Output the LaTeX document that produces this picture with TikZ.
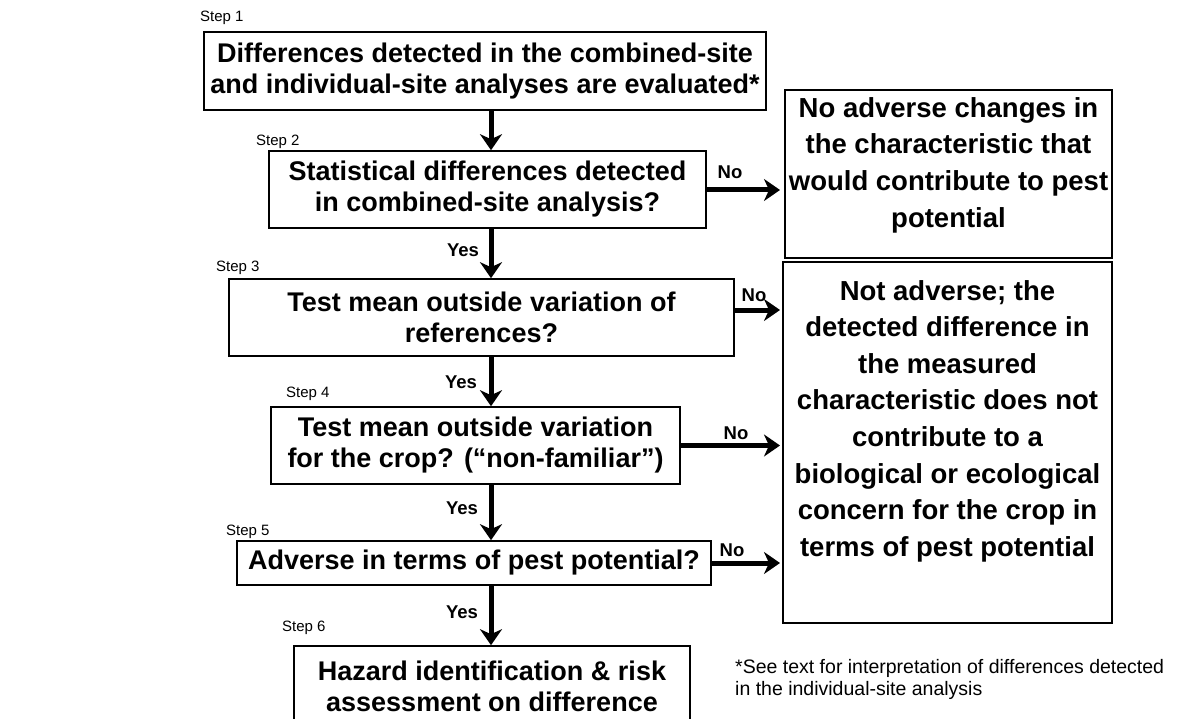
\documentclass[tikz,border=0pt]{standalone}
\usepackage{fontspec}
\setmainfont{Liberation Sans}
\usetikzlibrary{arrows.meta,calc}
\begin{document}
\begin{tikzpicture}[x=1pt,y=-1pt,
  box/.style={draw, line width=1.6pt, align=center, inner sep=0pt,
    font=\bfseries\fontsize{27}{31}\selectfont},
  bigbox/.style={draw, line width=1.6pt, inner sep=0pt},
  bigtext/.style={align=center, inner sep=0pt, font=\bfseries\fontsize{27.5}{36.6}\selectfont},
  flow/.style={line width=5pt, -{Stealth[length=16pt,width=22pt,inset=5pt]}},
  lbl/.style={font=\bfseries\fontsize{18.5}{22}\selectfont, inner sep=0pt},
  steplbl/.style={font=\fontsize{15}{18}\selectfont, anchor=west, inner sep=0pt},
  note/.style={font=\fontsize{19.5}{22}\selectfont, align=left, anchor=north west, inner sep=0pt}
]
\useasboundingbox (0,0) rectangle (1191,719);

\node[box, minimum width=562pt, minimum height=78pt] (b1) at (485,71)
  {Differences detected in the combined-site\\and individual-site analyses are evaluated*};
\node[box, minimum width=437pt, minimum height=77pt] (b2) at (487.5,189.5)
  {Statistical differences detected\\in combined-site analysis?};
\node[box, minimum width=505pt, minimum height=77pt] (b3) at (481.5,317.5)
  {Test mean outside variation of\\references?};
\node[box, minimum width=409pt, minimum height=77pt] (b4) at (475.5,445.5)
  {Test mean outside variation\\for the crop? (“non-familiar”)};
\node[box, minimum width=474pt, minimum height=44pt] (b5) at (474,563)
  {Adverse in terms of pest potential?};
\node[box, minimum width=396pt, minimum height=80pt] (b6) at (492,686)
  {Hazard identification \& risk\\assessment on difference};

\node[bigbox, minimum width=327pt, minimum height=168pt] (n1) at (948.5,174) {};
\node[bigtext] (n1t) at (948.5,165)
  {No adverse changes in\\the characteristic that\\would contribute to pest\\potential};
\node[bigbox, minimum width=329pt, minimum height=361pt] (n2) at (947.5,442.5) {};
\node[bigtext] (n2t) at (947.5,421)
  {Not adverse; the\\detected difference in\\the measured\\characteristic does not\\contribute to a\\biological or ecological\\concern for the crop in\\terms of pest potential};

\node[steplbl] (s1) at (200,18) {Step 1};
\node[steplbl] (s2) at (256,142) {Step 2};
\node[steplbl] (s3) at (216,268) {Step 3};
\node[steplbl] (s4) at (286,394) {Step 4};
\node[steplbl] (s5) at (226,532) {Step 5};
\node[steplbl] (s6) at (282,628) {Step 6};

\coordinate (ax) at (491,0);
\coordinate (tip) at (780,0);
\coordinate (a2) at (0,190);
\coordinate (a3) at (0,310);

\draw[flow] (b1.south -| ax) -- (b2.north -| ax);
\draw[flow] (b2.south -| ax) -- (b3.north -| ax);
\draw[flow] (b3.south -| ax) -- (b4.north -| ax);
\draw[flow] (b4.south -| ax) -- (b5.north -| ax);
\draw[flow] (b5.south -| ax) -- (b6.north -| ax);

\draw[flow] (b2.east |- a2) -- (tip |- a2);
\draw[flow] (b3.east |- a3) -- (tip |- a3);
\draw[flow] (b4.east) -- (b4.east -| tip);
\draw[flow] (b5.east) -- (b5.east -| tip);

\node[lbl] (y1) at (463,250) {Yes};
\node[lbl] (y2) at (461,382) {Yes};
\node[lbl] (y3) at (462,508) {Yes};
\node[lbl] (y4) at (462,612) {Yes};

\node[lbl] (no1) at (730,172) {No};
\node[lbl] (no2) at (754,295) {No};
\node[lbl] (no3) at (736,433) {No};
\node[lbl] (no4) at (732,550) {No};

\node[note] (fn) at (735,659) {*See text for interpretation of differences detected\\in the individual-site analysis};
\end{tikzpicture}
\end{document}
